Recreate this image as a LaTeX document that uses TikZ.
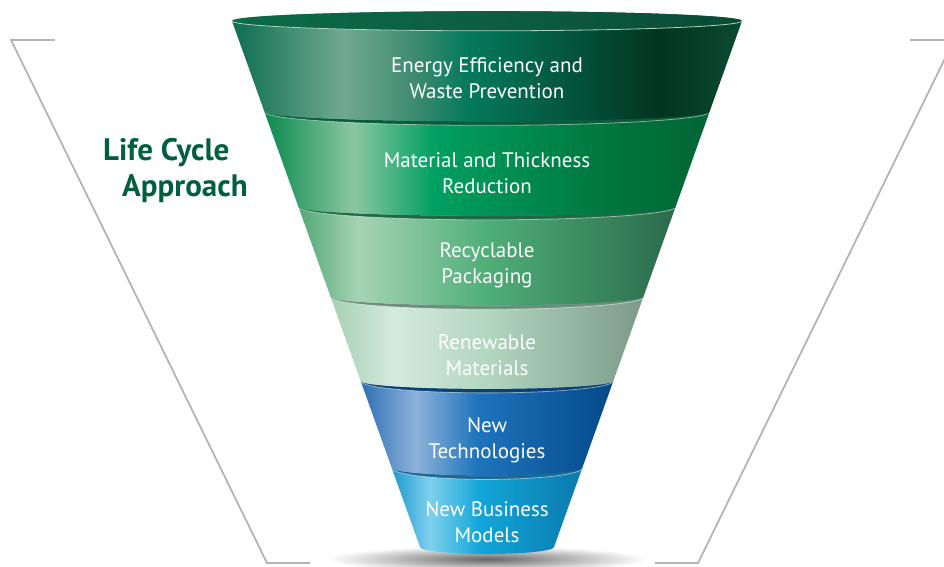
\documentclass[tikz,border=0pt]{standalone}
\usepackage{fontspec}
\setmainfont{PT Sans}
\usetikzlibrary{calc,positioning}
\definecolor{BracketGrey}{HTML}{B4B4B4}
\definecolor{CycleGreen}{HTML}{005F3F}
\definecolor{LipGreen}{HTML}{A8D2BE}
% rim stripes between the funnel bands
\definecolor{RimTwo}{HTML}{0A5C3A}
\definecolor{RimThree}{HTML}{1F6A45}
\definecolor{RimFour}{HTML}{6E8F7B}
\definecolor{RimFive}{HTML}{0B3F78}
\definecolor{RimSix}{HTML}{1C6A95}

% band shadings, the path is mapped onto 25bp..75bp
\pgfdeclarehorizontalshading{bandone}{100bp}{color(0bp)=(rgb,255:red,14;green,110;blue,80);
  color(25bp)=(rgb,255:red,14;green,110;blue,80); color(36bp)=(rgb,255:red,112;green,168;blue,146);
  color(43bp)=(rgb,255:red,61;green,138;blue,112); color(48bp)=(rgb,255:red,4;green,122;blue,92);
  color(67bp)=(rgb,255:red,3;green,52;blue,32); color(75bp)=(rgb,255:red,11;green,74;blue,51);
  color(100bp)=(rgb,255:red,11;green,74;blue,51)}
\pgfdeclarehorizontalshading{bandtwo}{100bp}{color(0bp)=(rgb,255:red,10;green,138;blue,79);
  color(25bp)=(rgb,255:red,10;green,138;blue,79); color(35bp)=(rgb,255:red,140;green,198;blue,162);
  color(44bp)=(rgb,255:red,0;green,160;blue,96); color(65bp)=(rgb,255:red,0;green,115;blue,60);
  color(75bp)=(rgb,255:red,0;green,102;blue,53); color(100bp)=(rgb,255:red,0;green,102;blue,53)}
\pgfdeclarehorizontalshading{bandthree}{100bp}{color(0bp)=(rgb,255:red,83;green,168;blue,119);
  color(25bp)=(rgb,255:red,83;green,168;blue,119); color(33bp)=(rgb,255:red,166;green,211;blue,181);
  color(50bp)=(rgb,255:red,79;green,174;blue,120); color(75bp)=(rgb,255:red,42;green,107;blue,76);
  color(100bp)=(rgb,255:red,42;green,107;blue,76)}
\pgfdeclarehorizontalshading{bandfour}{100bp}{color(0bp)=(rgb,255:red,165;green,207;blue,178);
  color(25bp)=(rgb,255:red,165;green,207;blue,178); color(35bp)=(rgb,255:red,212;green,234;blue,221);
  color(50bp)=(rgb,255:red,179;green,214;blue,191); color(75bp)=(rgb,255:red,123;green,154;blue,136);
  color(100bp)=(rgb,255:red,123;green,154;blue,136)}
\pgfdeclarehorizontalshading{bandfive}{100bp}{color(0bp)=(rgb,255:red,46;green,111;blue,179);
  color(25bp)=(rgb,255:red,46;green,111;blue,179); color(36bp)=(rgb,255:red,141;green,178;blue,218);
  color(48bp)=(rgb,255:red,30;green,116;blue,188); color(75bp)=(rgb,255:red,5;green,72;blue,138);
  color(100bp)=(rgb,255:red,5;green,72;blue,138)}
\pgfdeclarehorizontalshading{bandsix}{100bp}{color(0bp)=(rgb,255:red,31;green,152;blue,204);
  color(25bp)=(rgb,255:red,31;green,152;blue,204); color(35bp)=(rgb,255:red,127;green,208;blue,238);
  color(48bp)=(rgb,255:red,18;green,166;blue,216); color(75bp)=(rgb,255:red,10;green,121;blue,173);
  color(100bp)=(rgb,255:red,10;green,121;blue,173)}
\pgfdeclarehorizontalshading{opening}{100bp}{color(0bp)=(rgb,255:red,11;green,106;blue,72);
  color(25bp)=(rgb,255:red,11;green,106;blue,72); color(50bp)=(rgb,255:red,13;green,94;blue,67);
  color(75bp)=(rgb,255:red,10;green,74;blue,53); color(100bp)=(rgb,255:red,10;green,74;blue,53)}

\begin{document}
\begin{tikzpicture}[
  x=1pt,y=1pt,
  bracket/.style={draw=BracketGrey,line width=1.8pt},
  bandlabel/.style={text=white,align=center,inner sep=0pt,
    font=\fontsize{21}{26}\selectfont},
  heading/.style={text=CycleGreen,anchor=base west,inner sep=0pt,
    font=\fontsize{31}{36}\selectfont\bfseries}
]
\useasboundingbox (0,0) rectangle (944,566);

% side brackets
\draw[bracket] (55,526) -- (11,526) -- (267,3) -- (310,3);
\draw[bracket] (910,526) -- (954,526) -- (698,3) -- (655,3);

% shadow under the funnel
\shade[inner color=black!60,outer color=white] (487,7) ellipse[x radius=160,y radius=13];

% funnel bands, bottom one first
\def\nonerim{none}
\foreach \yt/\yb/\sh/\rim in {98/19/bandsix/RimSix,185/98/bandfive/RimFive,
    269/185/bandfour/RimFour,359/269/bandthree/RimThree,
    454/359/bandtwo/RimTwo,545/454/bandone/none}{
  \pgfmathsetmacro\wt{255-0.3574*(545-\yt)}
  \pgfmathsetmacro\wb{255-0.3574*(545-\yb)}
  \pgfmathsetmacro\rt{6+0.015*\wt}
  \pgfmathsetmacro\rb{6+0.015*\wb}
  \shade[shading=\sh] (487-\wt,\yt) -- (487-\wb,\yb)
    arc[start angle=180,end angle=360,x radius=\wb,y radius=\rb]
    -- (487+\wt,\yt) arc[start angle=0,end angle=180,x radius=\wt,y radius=\rt] -- cycle;
  \ifx\rim\nonerim\else
    \fill[\rim] (487-\wt,\yt)
      arc[start angle=180,end angle=360,x radius=\wt,y radius=\rt+4]
      -- (487+\wt,\yt) arc[start angle=0,end angle=-180,x radius=\wt,y radius=\rt] -- cycle;
    \draw[white,opacity=.5,line width=.8pt] (487-\wt,\yt)
      arc[start angle=180,end angle=360,x radius=\wt,y radius=\rt+4];
  \fi
}

% top opening of the funnel
\shade[shading=opening] (487,545) ellipse[x radius=255,y radius=9.8];
\draw[LipGreen,line width=.8pt] (232,545)
  arc[start angle=180,end angle=360,x radius=255,y radius=9.8];

% band texts
\node[bandlabel] (energy) at (487,488) {Energy Efficiency and\\Waste Prevention};
\node[bandlabel] (material) at (487,393) {Material and Thickness\\Reduction};
\node[bandlabel] (recyclable) at (487,300.5) {Recyclable\\Packaging};
\node[bandlabel] (renewable) at (487,211) {Renewable\\Materials};
\node[bandlabel] (technologies) at (487,126) {New\\Technologies};
\node[bandlabel] (business) at (487,44) {New Business\\Models};

% heading on the left
\node[heading] (lifecycle) at (103,406) {Life Cycle};
\node[heading] (approach) at (122,370) {Approach};
\end{tikzpicture}
\end{document}
